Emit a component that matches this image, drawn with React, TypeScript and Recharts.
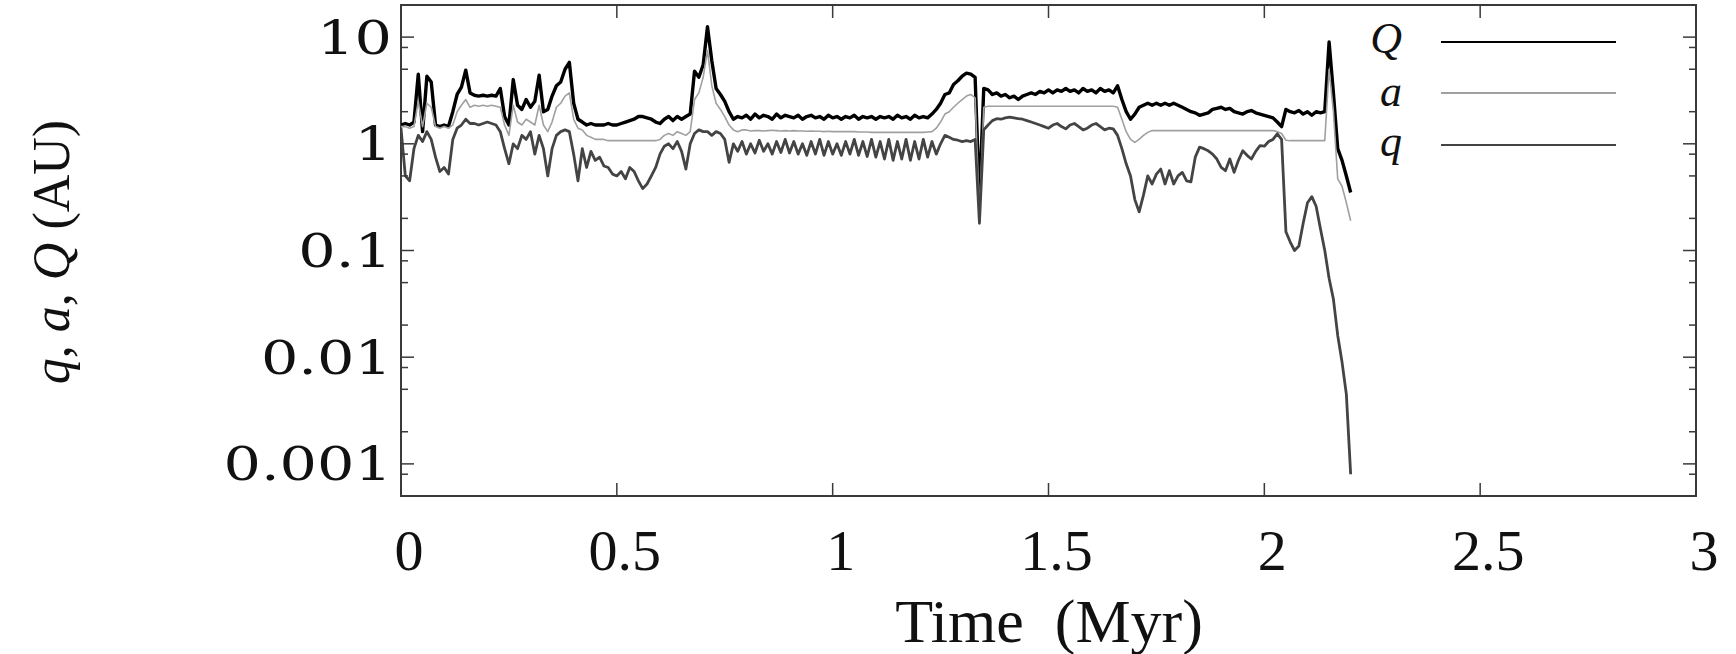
import * as React from "react";
import { Line, LineChart, ReferenceArea, XAxis, YAxis } from "recharts";

// time in Myr, sampled every 0.01
const TIME = [
  0, 0.01, 0.02, 0.03, 0.04, 0.05, 0.06, 0.07, 0.08, 0.09,
  0.1, 0.11, 0.12, 0.13, 0.14, 0.15, 0.16, 0.17, 0.18, 0.19,
  0.2, 0.21, 0.22, 0.23, 0.24, 0.25, 0.26, 0.27, 0.28, 0.29,
  0.3, 0.31, 0.32, 0.33, 0.34, 0.35, 0.36, 0.37, 0.38, 0.39,
  0.4, 0.41, 0.42, 0.43, 0.44, 0.45, 0.46, 0.47, 0.48, 0.49,
  0.5, 0.51, 0.52, 0.53, 0.54, 0.55, 0.56, 0.57, 0.58, 0.59,
  0.6, 0.61, 0.62, 0.63, 0.64, 0.65, 0.66, 0.67, 0.68, 0.69,
  0.7, 0.71, 0.72, 0.73, 0.74, 0.75, 0.76, 0.77, 0.78, 0.79,
  0.8, 0.81, 0.82, 0.83, 0.84, 0.85, 0.86, 0.87, 0.88, 0.89,
  0.9, 0.91, 0.92, 0.93, 0.94, 0.95, 0.96, 0.97, 0.98, 0.99,
  1, 1.01, 1.02, 1.03, 1.04, 1.05, 1.06, 1.07, 1.08, 1.09,
  1.1, 1.11, 1.12, 1.13, 1.14, 1.15, 1.16, 1.17, 1.18, 1.19,
  1.2, 1.21, 1.22, 1.23, 1.24, 1.25, 1.26, 1.27, 1.28, 1.29,
  1.3, 1.31, 1.32, 1.33, 1.34, 1.35, 1.36, 1.37, 1.38, 1.39,
  1.4, 1.41, 1.42, 1.43, 1.44, 1.45, 1.46, 1.47, 1.48, 1.49,
  1.5, 1.51, 1.52, 1.53, 1.54, 1.55, 1.56, 1.57, 1.58, 1.59,
  1.6, 1.61, 1.62, 1.63, 1.64, 1.65, 1.66, 1.67, 1.68, 1.69,
  1.7, 1.71, 1.72, 1.73, 1.74, 1.75, 1.76, 1.77, 1.78, 1.79,
  1.8, 1.81, 1.82, 1.83, 1.84, 1.85, 1.86, 1.87, 1.88, 1.89,
  1.9, 1.91, 1.92, 1.93, 1.94, 1.95, 1.96, 1.97, 1.98, 1.99,
  2, 2.01, 2.02, 2.03, 2.04, 2.05, 2.06, 2.07, 2.08, 2.09,
  2.1, 2.11, 2.12, 2.13, 2.14, 2.15, 2.16, 2.17, 2.18, 2.19,
  2.2,
];

// aphelion Q (AU)
const APHELION = [
  1.5, 1.55, 1.5, 1.6, 4.5, 1.3, 4.3, 3.8, 1.5, 1.45,
  1.5, 1.45, 2.0, 2.9, 3.4, 4.9, 3.0, 2.85, 2.8, 2.85,
  2.8, 2.85, 2.8, 3.3, 1.8, 1.5, 4.0, 2.3, 2.1, 2.6,
  2.2, 2.5, 4.4, 2.0, 2.1, 2.8, 3.5, 3.8, 5.0, 5.8,
  2.4, 1.7, 1.6, 1.5, 1.55, 1.5, 1.5, 1.5, 1.55, 1.5,
  1.5, 1.55, 1.6, 1.65, 1.7, 1.8, 1.8, 1.75, 1.7, 1.6,
  1.55, 1.7, 1.8, 1.65, 1.8, 1.7, 1.8, 1.9, 4.8, 4.2,
  5.5, 12.5, 6.0, 3.3, 2.9, 2.5, 2.0, 1.7, 1.8, 1.75,
  1.85, 1.7, 1.9, 1.75, 1.85, 1.8, 1.7, 1.9, 1.75, 1.85,
  1.8, 1.75, 1.85, 1.7, 1.8, 1.85, 1.75, 1.8, 1.7, 1.85,
  1.75, 1.8, 1.7, 1.8, 1.75, 1.85, 1.7, 1.8, 1.75, 1.8,
  1.7, 1.8, 1.75, 1.8, 1.7, 1.85, 1.75, 1.8, 1.7, 1.85,
  1.75, 1.8, 1.75, 1.9, 2.1, 2.4, 2.9, 3.0, 3.6, 3.9,
  4.3, 4.6, 4.5, 4.2, 0.3, 3.3, 3.2, 2.9, 3.0, 2.8,
  2.9, 2.7, 2.8, 2.6, 2.8, 2.9, 3.0, 2.9, 3.1, 3.0,
  3.2, 3.0, 3.2, 3.1, 3.3, 3.1, 3.2, 3.0, 3.3, 3.1,
  3.2, 3.0, 3.3, 3.1, 3.2, 3.0, 3.5, 2.6, 2.0, 1.7,
  1.9, 2.2, 2.3, 2.4, 2.3, 2.4, 2.3, 2.4, 2.3, 2.4,
  2.3, 2.2, 2.1, 2.0, 1.95, 1.85, 1.9, 1.95, 2.1, 2.15,
  2.2, 2.1, 2.15, 2.0, 1.95, 1.9, 2.0, 2.05, 1.95, 1.9,
  1.85, 1.8, 1.75, 1.6, 1.45, 2.1, 2.0, 1.95, 2.05, 1.9,
  2.0, 1.85, 2.0, 1.95, 2.0, 9.0, 3.0, 0.9, 0.7, 0.5,
  0.35,
];

// semi-major axis a (AU)
const SEMI_MAJOR = [
  1.45, 1.45, 1.4, 1.45, 2.5, 1.45, 2.4, 2.2, 1.45, 1.4,
  1.45, 1.4, 1.5, 2.0, 2.3, 2.6, 2.2, 2.3, 2.25, 2.3,
  2.25, 2.3, 2.25, 2.2, 1.5, 1.2, 2.3, 1.6, 1.5, 1.7,
  1.6, 1.5, 2.3, 1.5, 1.3, 1.6, 2.2, 2.4, 2.8, 3.0,
  1.7, 1.4, 1.35, 1.2, 1.15, 1.1, 1.1, 1.1, 1.07, 1.07,
  1.07, 1.07, 1.07, 1.07, 1.07, 1.07, 1.07, 1.07, 1.07, 1.07,
  1.1, 1.2, 1.25, 1.2, 1.3, 1.25, 1.2, 1.3, 2.6, 3.0,
  4.2, 7.5, 3.5, 2.4, 2.1, 1.8, 1.5, 1.35, 1.3, 1.35,
  1.35, 1.32, 1.33, 1.33, 1.32, 1.33, 1.34, 1.33, 1.32, 1.33,
  1.32, 1.33, 1.32, 1.32, 1.31, 1.32, 1.31, 1.31, 1.3, 1.31,
  1.3, 1.3, 1.3, 1.3, 1.3, 1.3, 1.29, 1.29, 1.29, 1.28,
  1.28, 1.28, 1.28, 1.28, 1.28, 1.28, 1.28, 1.28, 1.28, 1.28,
  1.28, 1.28, 1.29, 1.3, 1.4, 1.6, 1.9, 2.0, 2.2, 2.4,
  2.6, 2.8, 2.9, 2.7, 0.22, 2.2, 2.25, 2.25, 2.25, 2.25,
  2.25, 2.25, 2.25, 2.25, 2.25, 2.25, 2.25, 2.25, 2.25, 2.25,
  2.25, 2.25, 2.25, 2.25, 2.25, 2.25, 2.25, 2.25, 2.25, 2.25,
  2.25, 2.25, 2.25, 2.25, 2.25, 2.25, 2.2, 1.7, 1.3, 1.1,
  1.03, 1.1, 1.2, 1.28, 1.33, 1.33, 1.33, 1.33, 1.33, 1.33,
  1.33, 1.33, 1.33, 1.33, 1.33, 1.33, 1.33, 1.33, 1.33, 1.33,
  1.33, 1.33, 1.33, 1.33, 1.33, 1.33, 1.33, 1.33, 1.33, 1.33,
  1.33, 1.33, 1.33, 1.3, 1.25, 1.08, 1.07, 1.07, 1.07, 1.07,
  1.07, 1.07, 1.07, 1.07, 1.07, 5.0, 2.0, 0.47, 0.4, 0.28,
  0.19,
];

// perihelion q (AU)
const PERIHELION = [
  1.4, 0.5, 0.45, 0.9, 1.2, 1.05, 1.3, 1.1, 0.75, 0.55,
  0.6, 0.52, 1.1, 1.4, 1.5, 1.7, 1.55, 1.55, 1.5, 1.55,
  1.6, 1.55, 1.5, 1.3, 0.9, 0.65, 1.0, 0.9, 1.2, 1.1,
  1.3, 0.8, 1.2, 0.9, 0.5, 0.9, 1.2, 1.3, 1.35, 1.3,
  0.8, 0.45, 0.9, 0.6, 0.85, 0.7, 0.75, 0.62, 0.6, 0.52,
  0.5, 0.55, 0.47, 0.6, 0.55, 0.45, 0.38, 0.42, 0.5, 0.6,
  0.8, 0.95, 1.0, 0.9, 1.05, 0.85, 0.58, 1.0, 1.25, 1.35,
  1.3, 1.3, 1.2, 1.3, 1.25, 1.1, 0.67, 1.0, 0.85, 1.05,
  0.8, 1.0, 0.82, 1.08, 0.85, 1.0, 0.8, 1.05, 0.83, 1.1,
  0.82, 1.05, 0.8, 1.0, 0.78, 1.05, 0.8, 1.1, 0.78, 1.05,
  0.8, 1.0, 0.78, 1.05, 0.8, 1.1, 0.78, 1.05, 0.76, 1.1,
  0.75, 1.05, 0.72, 1.1, 0.7, 1.05, 0.72, 1.1, 0.7, 1.05,
  0.72, 1.1, 0.75, 1.05, 0.8, 1.0, 1.2, 1.15, 1.1, 1.08,
  1.05, 1.07, 1.05, 1.1, 0.18, 1.35, 1.5, 1.65, 1.72, 1.7,
  1.75, 1.78, 1.75, 1.72, 1.7, 1.65, 1.6, 1.55, 1.5, 1.45,
  1.4, 1.5, 1.55, 1.45, 1.38, 1.5, 1.55, 1.45, 1.35, 1.4,
  1.5, 1.55, 1.45, 1.35, 1.4, 1.38, 1.2, 0.9, 0.65, 0.5,
  0.3, 0.23, 0.33, 0.5, 0.42, 0.52, 0.58, 0.42, 0.56, 0.42,
  0.5, 0.54, 0.45, 0.44, 0.75, 0.93, 0.9, 0.86, 0.8, 0.72,
  0.6, 0.56, 0.72, 0.54, 0.7, 0.86, 0.78, 0.72, 0.85, 0.96,
  0.95, 1.05, 1.1, 1.24, 1.1, 0.15, 0.12, 0.1, 0.11, 0.18,
  0.28, 0.32, 0.26, 0.16, 0.1, 0.055, 0.035, 0.016, 0.009, 0.0045,
  0.0008,
];

const X_TICKS = [0, 0.5, 1, 1.5, 2, 2.5, 3];
const X_LABELS = ["0", "0.5", "1", "1.5", "2", "2.5", "3"];
const Y_MAJOR = [0.001, 0.01, 0.1, 1, 10];
const Y_LABELS = ["0.001", "0.01", "0.1", "1", "10"];
const Y_MINOR = [0.0008, 0.002, 0.005, 0.008, 0.02, 0.05, 0.08, 0.2, 0.5, 0.8, 2, 5, 8];

const SERIES = [
  { key: "Q", label: "Q", color: "#000000", width: 3.4 },
  { key: "a", label: "a", color: "#a0a0a0", width: 1.6 },
  { key: "q", label: "q", color: "#444444", width: 2.8 },
];

const W = 1736;
const H = 654;
const PLOT_LEFT = 401;
const PLOT_RIGHT = 1696;
const PLOT_TOP = 5;
const PLOT_BOTTOM = 496;
const FRAME = "#3a3a3a";

function XTick(props: any) {
  const { x, payload } = props;
  const i = X_TICKS.indexOf(payload.value);
  return (
    <g>
      <line x1={x} x2={x} y1={PLOT_BOTTOM} y2={PLOT_BOTTOM - 13} stroke={FRAME} strokeWidth={1.5} />
      <line x1={x} x2={x} y1={PLOT_TOP} y2={PLOT_TOP + 13} stroke={FRAME} strokeWidth={1.5} />
      <text x={x + 8} y={570} textAnchor="middle" fontFamily="'Liberation Serif', serif" fontSize={58} fill="#111">
        {X_LABELS[i]}
      </text>
    </g>
  );
}

function YTick(props: any) {
  const { y, payload } = props;
  const i = Y_MAJOR.indexOf(payload.value);
  const len = i >= 0 ? 13 : 7;
  return (
    <g>
      <line x1={PLOT_LEFT} x2={PLOT_LEFT + len} y1={y} y2={y} stroke={FRAME} strokeWidth={1.5} />
      <line x1={PLOT_RIGHT - len} x2={PLOT_RIGHT} y1={y} y2={y} stroke={FRAME} strokeWidth={1.5} />
      {i >= 0 && (
        <text
          transform={`translate(${392},${y}) scale(1.28,1)`}
          textAnchor="end"
          dy="0.36em"
          fontFamily="'DejaVu Serif', serif"
          fontSize={46}
          fill="#111"
        >
          {Y_LABELS[i]}
        </text>
      )}
    </g>
  );
}

export default function App() {
  const rows = React.useMemo(
    () => TIME.map((t, i) => ({ t, Q: APHELION[i], a: SEMI_MAJOR[i], q: PERIHELION[i] })),
    []
  );
  const yTicks = [...Y_MINOR, ...Y_MAJOR].sort((p, q) => p - q);

  return (
    <div style={{ position: "absolute", left: 0, top: 0, width: W, height: H, background: "#fff", overflow: "hidden" }}>
      <LineChart width={W} height={H} data={rows} margin={{ top: PLOT_TOP, right: W - PLOT_RIGHT, bottom: 0, left: 0 }}>
        <XAxis
          dataKey="t"
          type="number"
          domain={[0, 3]}
          ticks={X_TICKS}
          interval={0}
          height={H - PLOT_BOTTOM}
          axisLine={false}
          tickLine={false}
          tick={(p: any) => <XTick {...p} />}
          allowDataOverflow
        />
        <YAxis
          type="number"
          scale="log"
          domain={[0.0005, 20]}
          ticks={yTicks}
          interval={0}
          width={PLOT_LEFT}
          axisLine={false}
          tickLine={false}
          tick={(p: any) => <YTick {...p} />}
          allowDataOverflow
        />
        <ReferenceArea x1={0} x2={3} y1={0.0005} y2={20} fill="none" stroke={FRAME} strokeWidth={2} />
        {SERIES.map((s) => (
          <Line
            key={s.key}
            dataKey={s.key}
            type="linear"
            stroke={s.color}
            strokeWidth={s.width}
            strokeLinejoin="round"
            dot={false}
            activeDot={false}
            isAnimationActive={false}
          />
        ))}
      </LineChart>

      {/* y axis title */}
      <div
        style={{
          position: "absolute",
          left: 52,
          top: 252,
          transform: "translate(-50%, -50%) rotate(-90deg)",
          fontFamily: "'Liberation Serif', serif",
          fontSize: 52,
          whiteSpace: "nowrap",
          color: "#111",
          lineHeight: 1,
        }}
      >
        <i>q</i>, <i>a</i>, <i>Q</i> (AU)
      </div>

      {/* x axis title */}
      <div
        style={{
          position: "absolute",
          left: 1049,
          top: 590,
          transform: "translateX(-50%)",
          fontFamily: "'Liberation Serif', serif",
          fontSize: 62,
          whiteSpace: "pre",
          color: "#111",
          lineHeight: "62px",
        }}
      >
        {"Time  (Myr)"}
      </div>

      {/* legend */}
      {SERIES.map((s, i) => {
        const lineY = [42, 93, 145][i];
        const textTop = [14, 67, 117][i];
        return (
          <React.Fragment key={s.key}>
            <div
              style={{
                position: "absolute",
                right: W - 1402,
                top: textTop,
                fontFamily: "'Liberation Serif', serif",
                fontStyle: "italic",
                fontSize: 44,
                lineHeight: "49px",
                color: "#111",
              }}
            >
              {s.label}
            </div>
            <div
              style={{
                position: "absolute",
                left: 1441,
                width: 175,
                top: lineY - 1,
                height: 0,
                borderTop: `2px solid ${s.color}`,
              }}
            />
          </React.Fragment>
        );
      })}
    </div>
  );
}
